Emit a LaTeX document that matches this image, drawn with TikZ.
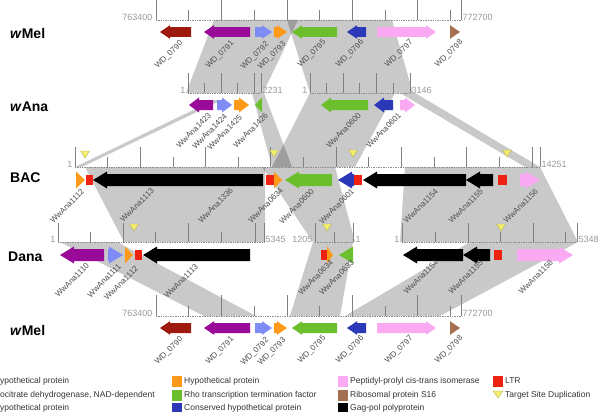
\documentclass[tikz,border=0pt]{standalone}
\usepackage{fontspec}
\setmainfont{Liberation Sans}
\definecolor{cDR}{HTML}{9E1A0F}
\definecolor{cPU}{HTML}{990A99}
\definecolor{cLB}{HTML}{7F8CF5}
\definecolor{cOR}{HTML}{FF9919}
\definecolor{cGR}{HTML}{6CBF2C}
\definecolor{cDB}{HTML}{2B38B8}
\definecolor{cPK}{HTML}{F9AAF2}
\definecolor{cBR}{HTML}{A5704F}
\definecolor{cLTR}{HTML}{EE2211}
\definecolor{cTSD}{HTML}{F4EE70}
\tikzset{
 band/.style={fill=black, fill opacity=0.21},
 tick/.style={draw=black!50, line width=0.6pt},
 rline/.style={draw=black!45, line width=0.7pt, densely dotted},
 glab/.style={rotate=45, anchor=east, inner sep=0.3pt, font=\fontsize{8}{8}\selectfont, text=black!70},
 rnum/.style={inner sep=0.5pt, font=\fontsize{9}{9}\selectfont, text=black!40},
 rowlab/.style={anchor=west, inner sep=0pt, font=\fontsize{14}{14}\selectfont\bfseries},
 legtxt/.style={anchor=west, inner sep=0pt, font=\fontsize{8.5}{9}\selectfont, text=black!80},
 tsdmark/.style={fill=cTSD, draw=cTSD!70!black, line width=0.3pt},
}
\newcommand\BH{5}\newcommand\HH{7}\newcommand\HL{10}
\newcommand\setg[3]{\renewcommand\BH{#1}\renewcommand\HH{#2}\renewcommand\HL{#3}}
\newcommand\gR[4]{\pgfmathsetmacro\hlen{min(\HL,#2-#1)}\fill[#4] (#1,{#3-\BH}) -- ({#2-\hlen},{#3-\BH}) -- ({#2-\hlen},{#3-\HH}) -- (#2,#3) -- ({#2-\hlen},{#3+\HH}) -- ({#2-\hlen},{#3+\BH}) -- (#1,{#3+\BH}) -- cycle;}
\newcommand\gL[4]{\pgfmathsetmacro\hlen{min(\HL,#2-#1)}\fill[#4] (#2,{#3-\BH}) -- ({#1+\hlen},{#3-\BH}) -- ({#1+\hlen},{#3-\HH}) -- (#1,#3) -- ({#1+\hlen},{#3+\HH}) -- ({#1+\hlen},{#3+\BH}) -- (#2,{#3+\BH}) -- cycle;}
\newcommand\ltr[3]{\fill[cLTR] (#1,{#3-5}) rectangle (#2,{#3+5});}
\newcommand\tsdat[2]{\filldraw[tsdmark] ({#1-4.5},{#2-4}) -- ({#1+4.5},{#2-4}) -- (#1,{#2+3}) -- cycle;}
\newcounter{lb}
\newcommand\gl[3]{\stepcounter{lb}\node[glab] (gl\arabic{lb}) at (#1,#2) {#3};}
\begin{document}
\begin{tikzpicture}[x=1pt,y=-1pt]
\useasboundingbox (0,0) rectangle (602,412);
% ---------- synteny bands ----------
\fill[band] (214,20) -- (298,20) -- (263,93) -- (186,93) -- cycle;
\fill[band] (287,20) -- (392,20) -- (413,93) -- (310,93) -- cycle;
\fill[band] (214,100) -- (222,100) -- (82,167) -- (75,167) -- cycle;
\fill[band] (252,93) -- (264,93) -- (292,167) -- (272,167) -- cycle;
\fill[band] (310,93) -- (395,93) -- (355,167) -- (272,167) -- cycle;
\fill[band] (400,93) -- (415,93) -- (540,167) -- (525,167) -- cycle;
\fill[band] (85,167) -- (265,167) -- (265,242) -- (124,242) -- cycle;
\fill[band] (262,167) -- (335,167) -- (355,242) -- (313,242) -- cycle;
\fill[band] (405,167) -- (540,167) -- (578,242) -- (400,242) -- cycle;
\fill[band] (60,242) -- (117,242) -- (256,316) -- (204,316) -- cycle;
\fill[band] (313,242) -- (353,242) -- (340,316) -- (290,316) -- cycle;
\fill[band] (470,242) -- (578,242) -- (440,316) -- (345,316) -- cycle;
% ---------- rulers ----------
% wMel top
\draw[rline] (156,20) -- (461,20);
\foreach \x in {156,221.4,286.8,352.2,417.6,461} \draw[tick] (\x,0) -- (\x,20);
\foreach \x in {188.7,254.1,319.5,384.9,450.3} \draw[tick] (\x,10) -- (\x,20);
\node[rnum,anchor=south east] (r1) at (153,21) {763400};
\node[rnum,anchor=south west] (r2) at (462,21) {772700};
% wAna
\draw[rline] (188,93) -- (261,93);
\foreach \x in {188,221,254,261} \draw[tick] (\x,73) -- (\x,93);
\foreach \x in {204.5,237.5} \draw[tick] (\x,83) -- (\x,93);
\node[rnum,anchor=south east] (r3) at (186,94) {1};
\node[rnum,anchor=south west] (r4) at (262,94) {2231};
\draw[rline] (310,93) -- (410,93);
\foreach \x in {310,343,376,410} \draw[tick] (\x,73) -- (\x,93);
\foreach \x in {326.5,359.5,393} \draw[tick] (\x,83) -- (\x,93);
\node[rnum,anchor=south east] (r5) at (308,94) {1};
\node[rnum,anchor=south west] (r6) at (411,94) {3146};
% BAC
\draw[rline] (75,167) -- (540,167);
\foreach \k in {0,...,14} {
  \pgfmathsetmacro\xx{75+32.63*\k}
  \pgfmathsetmacro\yy{mod(\k,2)==0 ? 147 : 157}
  \draw[tick] (\xx,\yy) -- (\xx,167);
}
\draw[tick] (540,147) -- (540,167);
\node[rnum,anchor=south east] (r7) at (73,168) {1};
\node[rnum,anchor=south west] (r8) at (541,168) {14251};
% Dana
\draw[rline] (58,242) -- (264,242);
\foreach \x in {58,123,188,255,264} \draw[tick] (\x,223) -- (\x,242);
\foreach \x in {90.5,155.5,221.5} \draw[tick] (\x,232) -- (\x,242);
\node[rnum,anchor=south east] (r9) at (56,243) {1};
\node[rnum,anchor=south west] (r10) at (265,243) {5345};
\draw[rline] (315,242) -- (353,242);
\foreach \x in {315,353} \draw[tick] (\x,223) -- (\x,242);
\foreach \x in {334} \draw[tick] (\x,232) -- (\x,242);
\node[rnum,anchor=south east] (r11) at (313,243) {1205};
\node[rnum,anchor=south west] (r12) at (355,243) {1};
\draw[rline] (402,242) -- (577,242);
\foreach \x in {402,468,533,577} \draw[tick] (\x,223) -- (\x,242);
\foreach \x in {435,500.5,565.5} \draw[tick] (\x,232) -- (\x,242);
\node[rnum,anchor=south east] (r13) at (400,243) {1};
\node[rnum,anchor=south west] (r14) at (578,243) {5348};
% wMel bottom
\draw[rline] (156,316) -- (461,316);
\foreach \x in {156,221.4,286.8,352.2,417.6,461} \draw[tick] (\x,295) -- (\x,316);
\foreach \x in {188.7,254.1,319.5,384.9,450.3} \draw[tick] (\x,306) -- (\x,316);
\node[rnum,anchor=south east] (r15) at (153,317) {763400};
\node[rnum,anchor=south west] (r16) at (462,317) {772700};
% ---------- TSD marks ----------
\tsdat{85}{155}
\tsdat{274}{154}
\tsdat{353}{154}
\tsdat{507}{154}
\tsdat{134}{228}
\tsdat{327}{228}
\tsdat{501}{228}
% ---------- genes ----------
\setg{4.8}{6.8}{10}
\gL{160}{191}{32}{cDR}
\gL{204}{250}{32}{cPU}
\gR{255}{272}{32}{cLB}
\gR{274}{287}{32}{cOR}
\gL{292}{337}{32}{cGR}
\gL{347}{366}{32}{cDB}
\gR{377}{436}{32}{cPK}
\gR{450}{460}{32}{cBR}
\setg{5}{7.5}{10}
\gL{189}{213}{105}{cPU}
\gR{217}{232}{105}{cLB}
\gR{234}{249}{105}{cOR}
\gL{255}{262}{105}{cGR}
\gL{321}{368}{105}{cGR}
\gL{374}{393}{105}{cDB}
\gR{400}{415}{105}{cPK}
\setg{6}{8.5}{14}
\gR{76}{85}{180}{cOR}
\ltr{86}{93}{180}
\gL{93}{263}{180}{black}
\ltr{266}{274}{180}
\gR{274}{282}{180}{cOR}
\gL{285}{332}{180}{cGR}
\gL{338}{354}{180}{cDB}
\ltr{354}{362}{180}
\gL{363}{466}{180}{black}
\gL{466}{493}{180}{black}
\ltr{498}{507}{180}
\gR{520}{540}{180}{cPK}
\gL{60}{104}{255}{cPU}
\gR{108}{123}{255}{cLB}
\gR{125}{133}{255}{cOR}
\ltr{135}{142}{255}
\gL{143}{250}{255}{black}
\ltr{321}{327}{255}
\gR{327}{333}{255}{cOR}
\gL{339}{353}{255}{cGR}
\gL{403}{463}{255}{black}
\gL{463}{490}{255}{black}
\ltr{494}{502}{255}
\gR{517}{573}{255}{cPK}
\setg{5}{6.8}{10}
\gL{160}{191}{328}{cDR}
\gL{204}{250}{328}{cPU}
\gR{255}{272}{328}{cLB}
\gR{274}{287}{328}{cOR}
\gL{292}{337}{328}{cGR}
\gL{347}{366}{328}{cDB}
\gR{377}{436}{328}{cPK}
\gR{450}{460}{328}{cBR}
% ---------- gene labels ----------
\gl{182}{42}{WD\_0790}
\gl{233}{42}{WD\_0791}
\gl{268}{43}{WD\_0792}
\gl{285}{43}{WD\_0793}
\gl{325}{41}{WD\_0795}
\gl{363}{41}{WD\_0796}
\gl{412}{41}{WD\_0797}
\gl{462}{41}{WD\_0798}
\gl{210}{114}{WwAna1423}
\gl{226}{115}{WwAna1424}
\gl{241}{116}{WwAna1425}
\gl{267}{114}{WwAna1426}
\gl{360}{114}{WwAna0600}
\gl{400}{114}{WwAna0601}
\gl{83}{190}{WwAna1112}
\gl{153}{189}{WwAna1113}
\gl{232}{189}{WwAna1336}
\gl{282}{189}{WwAna0634}
\gl{313}{190}{WwAna0600}
\gl{353}{190}{WwAna0601}
\gl{437}{190}{WwAna1154}
\gl{482}{190}{WwAna1155}
\gl{537}{190}{WwAna1156}
\gl{88}{264}{WwAna1110}
\gl{120}{265}{WwAna1111}
\gl{137}{267}{WwAna1112}
\gl{197}{265}{WwAna1113}
\gl{332}{261}{WwAna0634}
\gl{353}{261}{WwAna0633}
\gl{437}{261}{WwAna1154}
\gl{482}{261}{WwAna1155}
\gl{552}{261}{WwAna1156}
\gl{182}{338}{WD\_0790}
\gl{233}{338}{WD\_0791}
\gl{268}{339}{WD\_0792}
\gl{285}{339}{WD\_0793}
\gl{325}{337}{WD\_0795}
\gl{363}{337}{WD\_0796}
\gl{412}{337}{WD\_0797}
\gl{462}{337}{WD\_0798}
% ---------- row labels ----------
\node[rowlab] (wmel1) at (10,33) {\textit{w}Mel};
\node[rowlab] (wana) at (10,107) {\textit{w}Ana};
\node[rowlab] (bac) at (10,178) {BAC};
\node[rowlab] (dana) at (8,257) {Dana};
\node[rowlab] (wmel2) at (10,330) {\textit{w}Mel};
% ---------- legend ----------
\node[legtxt] (a1) at (0,381) {ypothetical protein};
\node[legtxt] (a2) at (0,395) {ocitrate dehydrogenase, NAD-dependent};
\node[legtxt] (a3) at (0,408.5) {ypothetical protein};
\fill[cOR] (172,375.5) rectangle (182,386.5);
\fill[cGR] (172,389.5) rectangle (182,400.5);
\fill[cDB] (172,403) rectangle (182,414);
\node[legtxt] (b1) at (184,381) {Hypothetical protein};
\node[legtxt] (b2) at (184,395) {Rho transcription termination factor};
\node[legtxt] (b3) at (184,408.5) {Conserved hypothetical protein};
\fill[cPK] (338,375.5) rectangle (348,386.5);
\fill[cBR] (338,389.5) rectangle (348,400.5);
\fill[black] (338,403) rectangle (348,414);
\node[legtxt] (c1) at (350,381) {Peptidyl-prolyl cis-trans isomerase};
\node[legtxt] (c2) at (350,395) {Ribosomal protein S16};
\node[legtxt] (c3) at (350,408.5) {Gag-pol polyprotein};
\fill[cLTR] (493,375.5) rectangle (503,386.5);
\filldraw[tsdmark] (493,391) -- (503,391) -- (498,398) -- cycle;
\node[legtxt] (d1) at (505,381) {LTR};
\node[legtxt] (d2) at (505,395) {Target Site Duplication};
\end{tikzpicture}
\end{document}
